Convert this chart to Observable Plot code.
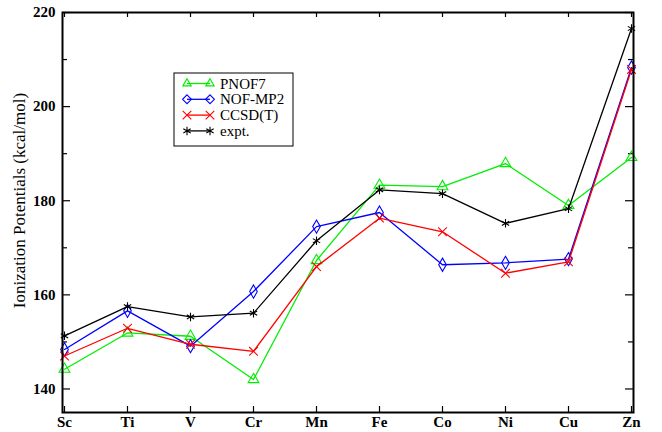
<!DOCTYPE html>
<html><head><meta charset="utf-8">
<script src="https://cdn.jsdelivr.net/npm/d3@7"></script>
<script src="https://cdn.jsdelivr.net/npm/@observablehq/plot@0.6"></script>
<style>body{margin:0;background:#fff} #chart{position:relative;width:662px;height:432px}
#chart svg, #chart svg text{font-family:"Liberation Serif", "Times New Roman", serif !important}</style>
</head><body><div id="chart"></div>
<script>
const elements = ["Sc","Ti","V","Cr","Mn","Fe","Co","Ni","Cu","Zn"];
const pnof7  = [144.2, 151.9, 151.2, 142.0, 167.3, 183.3, 183.0, 187.9, 179.0, 189.2];
const nofmp2 = [148.4, 156.6, 149.1, 160.7, 174.5, 177.5, 166.4, 166.8, 167.6, 208.3];
const ccsdt  = [147.0, 152.9, 149.5, 148.0, 166.0, 176.3, 173.4, 164.6, 167.0, 207.9];
const expt   = [151.3, 157.5, 155.3, 156.1, 171.5, 182.3, 181.5, 175.2, 178.3, 216.6];
const seriesNames = ["PNOF7","NOF-MP2","CCSD(T)","expt."];
const seriesValues = [pnof7, nofmp2, ccsdt, expt];
const seriesColors = ["#00ee00","#0000ff","#ff0000","#000000"];
const seriesSymbols = ["triangle","diamond","times","asterisk"];
const yMajorTicks = [140,160,180,200,220];
const yMinorTicks = [150,170,190,210];
const yLabel = "Ionization Potentials (kcal/mol)";

const W = 662, H = 432, mL = 62, mR = 29, mT = 12, mB = 20;
const innerW = W - mL - mR, innerH = H - mT - mB;

const seriesMarks = [];
seriesNames.forEach((name, i) => {
  const rows = elements.map((el, j) => ({el, v: seriesValues[i][j]}));
  seriesMarks.push(Plot.line(rows, {x: "el", y: "v", stroke: seriesColors[i], strokeWidth: 1.3}));
  seriesMarks.push(Plot.dot(rows, {x: "el", y: "v", stroke: seriesColors[i], symbol: seriesSymbols[i], r: 4, strokeWidth: 1.1}));
});

const svg = Plot.plot({
  width: W, height: H,
  marginLeft: mL, marginRight: mR, marginTop: mT, marginBottom: mB,
  style: {fontFamily: "Liberation Serif", fontSize: "15px", color: "#000", background: "#fff"},
  x: {type: "point", domain: elements, padding: 0},
  y: {domain: [135, 220]},
  marks: [
    Plot.axisY({ticks: yMajorTicks, tickSize: 0, tickPadding: 7, label: null, fontWeight: "bold", fontSize: 15}),
    Plot.axisX({tickSize: 0, tickPadding: 4, label: null, fontWeight: "bold", fontSize: 15}),
    Plot.tickY(yMajorTicks, {y: d => d, insetRight: innerW - 8, strokeWidth: 1.2}),
    Plot.tickY(yMajorTicks, {y: d => d, insetLeft: innerW - 8, strokeWidth: 1.2}),
    Plot.tickY(yMinorTicks, {y: d => d, insetRight: innerW - 5, strokeWidth: 1.2}),
    Plot.tickY(yMinorTicks, {y: d => d, insetLeft: innerW - 5, strokeWidth: 1.2}),
    Plot.tickX(elements, {x: d => d, insetTop: innerH - 6, strokeWidth: 1.2}),
    Plot.tickX(elements, {x: d => d, insetBottom: innerH - 5, strokeWidth: 1.2}),
    Plot.text([yLabel], {text: d => d, frameAnchor: "left", textAnchor: "middle", rotate: -90, dx: -43, dy: -12, fontSize: 17, fontWeight: "normal"}),
    ...seriesMarks,
    Plot.frame({stroke: "#000", strokeWidth: 2})
  ]
});
d3.select(svg).attr("font-family", "Liberation Serif");
document.getElementById("chart").appendChild(svg);

// Legend inside the plot area
const symMap = {triangle: d3.symbolTriangle2, diamond: d3.symbolDiamond2, times: d3.symbolTimes, asterisk: d3.symbolAsterisk};
const lg = d3.select(svg).append("g").attr("class", "legend");
lg.append("rect").attr("x", 174).attr("y", 73).attr("width", 119).attr("height", 73)
  .attr("fill", "#fff").attr("stroke", "#000").attr("stroke-width", 1);
seriesNames.forEach((name, i) => {
  const y = 83.5 + i * 15.8;
  const g = lg.append("g");
  g.append("line").attr("x1", 187).attr("x2", 210).attr("y1", y).attr("y2", y)
    .attr("stroke", seriesColors[i]).attr("stroke-width", 1.3);
  [187, 210].forEach(x => {
    g.append("path").attr("transform", `translate(${x},${y})`)
      .attr("d", d3.symbol(symMap[seriesSymbols[i]], Math.PI * 4 * 4)())
      .attr("fill", "none").attr("stroke", seriesColors[i]).attr("stroke-width", 1.1);
  });
  g.append("text").attr("x", 220).attr("y", y + 5).attr("text-anchor", "start")
    .attr("font-size", 15).attr("font-weight", "normal").attr("fill", "#000").text(name);
});
</script></body></html>
